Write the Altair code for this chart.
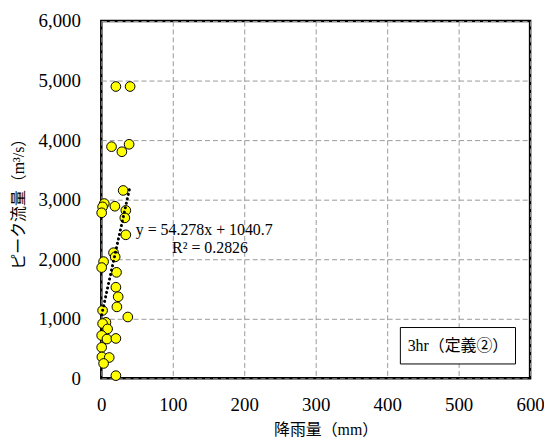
import altair as alt
import pandas as pd

# ---- data ----
rain = [20.4, 40.3, 14.3, 28.8, 38.9, 30.6, 4.2, 1.8, 0.5, 19.0, 34.3, 32.9, 34.3,
        17.1, 19.4, 3.2, 0.5, 21.3, 20.4, 23.6, 21.8, 1.8, 37.1, 6.5, 1.8, 8.8,
        0.5, 7.9, 20.4, 0.5, 0.8, 11.1, 3.2, 20.4]
flow = [4900, 4900, 3890, 3805, 3930, 3155, 2935, 2880, 2780, 2890, 2820, 2695, 2410,
        2110, 2040, 1960, 1860, 1780, 1530, 1370, 1200, 1140, 1030, 940, 920, 830,
        720, 660, 670, 520, 360, 350, 250, 45]

slope = 54.278
intercept = 1040.7
eq_line1 = "y = 54.278x + 1040.7"
eq_line2 = "R² = 0.2826"
box_label = "3hr（定義②）"
x_title = "降雨量（mm）"
y_title = "ピーク流量（m³/s）"
x_ticks = [0, 100, 200, 300, 400, 500, 600]
y_ticks = [0, 1000, 2000, 3000, 4000, 5000, 6000]

SERIF = "Liberation Serif, Noto Sans CJK JP, serif"

pts = pd.DataFrame({"rain": rain, "flow": flow})
tx = [min(rain), max(rain)]
trend = pd.DataFrame({"rain": tx, "flow": [slope * v + intercept for v in tx]})
one = pd.DataFrame({"k": [0]})

x_scale = alt.Scale(domain=[0, 600], nice=False, zero=False)
y_scale = alt.Scale(domain=[0, 6000], nice=False, zero=False)

x_axis = alt.Axis(title=x_title, values=x_ticks, format="d", grid=True, ticks=False,
                  domain=False, labelPadding=17, labelFontSize=19, labelFlush=False,
                  labelOverlap=False, labelFont="Liberation Serif", titleFont=SERIF,
                  labelColor="black", titleColor="black", titleFontWeight="normal",
                  titleFontSize=16, titleX=226, titleY=52,
                  titleBaseline="middle", titleAlign="center",
                  gridDash=[5, 3], gridColor="#999999", gridWidth=1)
y_axis = alt.Axis(title=y_title, values=y_ticks, format=",d", grid=True, ticks=False,
                  domain=False, labelPadding=21, labelFontSize=19, labelFlush=False,
                  labelOverlap=False, labelFont="Liberation Serif", titleFont=SERIF,
                  labelColor="black", titleColor="black", titleFontWeight="normal",
                  titleFontSize=16, titleX=-83.5, titleY=180,
                  titleAngle=270, titleBaseline="middle", titleAlign="center",
                  gridDash=[5, 3], gridColor="#999999", gridWidth=1)

points = alt.Chart(pts).mark_circle(size=95, color="#FFFF00", stroke="black",
                                    strokeWidth=1, opacity=1).encode(
    x=alt.X("rain:Q", scale=x_scale, axis=x_axis),
    y=alt.Y("flow:Q", scale=y_scale, axis=y_axis),
)

trend_line = alt.Chart(trend).mark_line(color="black", strokeDash=[0.1, 4.5],
                                        strokeWidth=3, strokeCap="round").encode(
    x=alt.X("rain:Q", scale=x_scale),
    y=alt.Y("flow:Q", scale=y_scale),
)

eq1 = alt.Chart(one).mark_text(align="left", baseline="middle", font=SERIF,
                               fontSize=16, fontWeight="normal", color="black").encode(
    x=alt.value(34.7), y=alt.value(210.5), text=alt.value(eq_line1))
eq2 = alt.Chart(one).mark_text(align="left", baseline="middle", font=SERIF,
                               fontSize=16, fontWeight="normal", color="black").encode(
    x=alt.value(71.3), y=alt.value(228.8), text=alt.value(eq_line2))

box = alt.Chart(one).mark_rect(fill="white", stroke="black", strokeWidth=1).encode(
    x=alt.value(301.3), x2=alt.value(417.3), y=alt.value(308.8), y2=alt.value(345.5))
box_text = alt.Chart(one).mark_text(align="center", baseline="middle", font=SERIF,
                                    fontSize=16, fontWeight="normal", color="black").encode(
    x=alt.value(359.3), y=alt.value(327.5), text=alt.value(box_label))

chart = alt.layer(points, trend_line, eq1, eq2, box, box_text).properties(
    width=432, height=360,
    autosize=alt.AutoSizeParams(type="none"),
    padding={"left": 94, "top": 11.5, "right": 14, "bottom": 60},
).configure_view(
    stroke="black", strokeWidth=2.5
)

chart.save("out.html", embed_options={"renderer": "svg", "actions": False})
